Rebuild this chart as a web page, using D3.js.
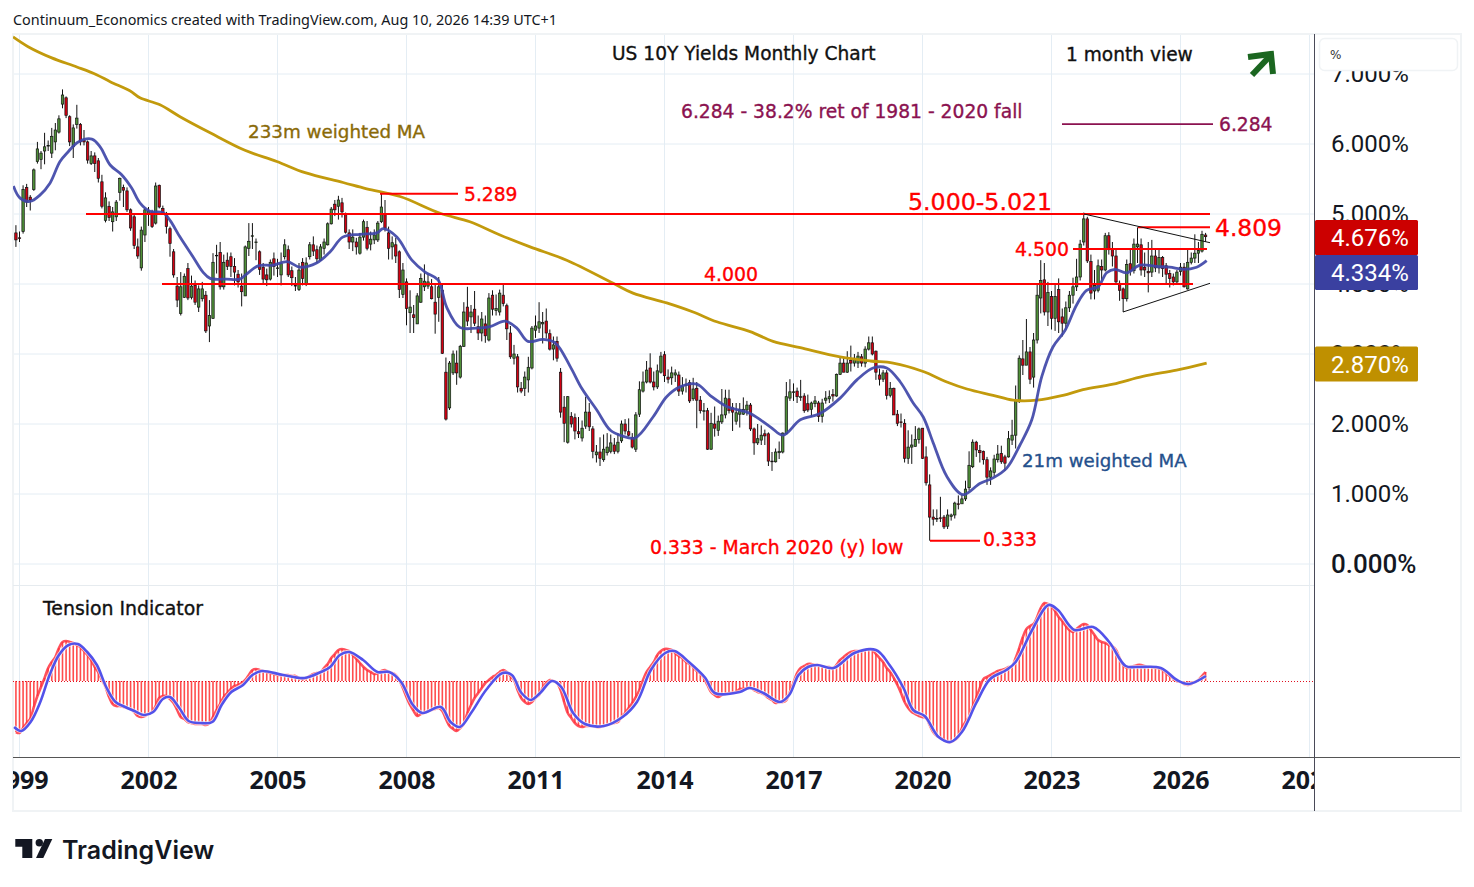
<!DOCTYPE html>
<html>
<head>
<meta charset="utf-8">
<title>US 10Y Yields Monthly Chart</title>
<script src="https://cdn.jsdelivr.net/npm/d3@7"></script>
<style>
  html, body { margin: 0; padding: 0; background: #fff; }
  svg { display: block; }
  text { font-family: "DejaVu Sans", sans-serif; }
</style>
</head>
<body>
<svg id="chart" width="1474" height="887"></svg>
<script>
"use strict";

// monthly bars, first row is Dec 1998, then one row per year up to Aug 2026
var opens = [4.73,
  4.66,4.75,5.38,5.24,5.35,5.75,5.78,5.90,5.97,5.87,6.03,6.17,
  6.57,6.66,6.39,5.96,6.28,6.28,6.05,6.03,5.72,5.83,5.76,5.46,
  4.91,5.11,4.89,4.96,5.31,5.38,5.33,5.06,4.96,4.53,4.23,4.70,
  5.00,5.03,4.87,5.41,5.08,5.01,4.79,4.46,3.97,3.58,3.81,4.22,
  3.81,3.98,3.67,3.79,3.84,3.40,3.51,4.41,4.45,3.96,4.34,4.39,
  4.25,4.14,3.97,3.83,4.51,4.69,4.60,4.46,4.24,4.13,4.07,4.36,
  4.23,4.13,4.39,4.49,4.19,3.98,3.92,4.31,4.00,4.39,4.56,4.49,
  4.34,4.51,4.56,4.86,5.14,5.11,5.16,4.99,4.73,4.60,4.60,4.44,
  4.67,4.81,4.57,4.63,4.63,4.89,4.99,4.73,4.53,4.56,4.46,3.85,
  4.03,3.59,3.56,3.43,3.74,3.96,3.97,3.96,3.74,3.81,3.91,2.74,
  2.23,2.73,2.87,2.67,3.11,3.67,3.53,3.64,3.39,3.30,3.43,3.20,
  3.84,3.62,3.60,3.84,3.69,3.30,2.94,2.96,2.51,2.51,2.63,2.80,
  3.34,3.37,3.43,3.47,3.29,3.07,3.18,2.74,2.24,1.74,2.11,2.09,
  1.89,1.80,1.97,2.17,1.93,1.56,1.60,1.49,1.59,1.61,1.70,1.61,
  1.76,2.00,1.89,1.81,1.64,2.14,2.47,2.60,2.80,2.60,2.53,2.74,
  2.99,2.67,2.66,2.70,2.70,2.47,2.56,2.59,2.36,2.51,2.34,2.19,
  2.19,1.64,2.00,1.91,2.03,2.13,2.36,2.23,2.04,2.14,2.14,2.20,
  2.27,1.93,1.73,1.77,1.86,1.86,1.47,1.46,1.59,1.60,1.86,2.37,
  2.46,2.47,2.39,2.40,2.29,2.21,2.29,2.30,2.11,2.34,2.36,2.42,
  2.40,2.71,2.87,2.74,2.91,2.87,2.87,2.96,2.87,3.07,3.16,3.04,
  2.70,2.64,2.73,2.41,2.51,2.14,2.03,2.01,1.51,1.67,1.68,1.78,
  1.94,1.53,1.13,0.67,0.65,0.66,0.67,0.54,0.68,0.70,0.86,0.86,
  0.93,1.09,1.39,1.74,1.62,1.61,1.49,1.24,1.31,1.49,1.58,1.53,
  1.53,1.77,1.84,2.34,2.93,2.84,3.03,2.67,3.20,3.80,4.06,3.60,
  3.82,3.51,3.92,3.53,3.44,3.66,3.84,3.96,4.10,4.60,4.93,4.32,
  3.90,3.91,4.25,4.20,4.69,4.49,4.40,4.01,3.93,3.79,4.29,4.19,
  4.53,4.56,4.24,4.18,4.17,4.40,4.23,4.38,4.26,4.15,4.10,4.03,
  4.18,4.24,3.93,4.31,4.37,4.44,4.47,4.70];

var highs = [4.84,
  4.75,5.41,5.43,5.27,5.65,6.03,5.90,6.16,6.05,6.23,6.30,6.41,
  6.78,6.68,6.41,6.28,6.56,6.30,6.20,6.05,5.90,5.88,5.80,5.56,
  5.31,5.18,5.10,5.20,5.52,5.42,5.38,5.08,5.00,4.65,4.82,5.08,
  5.10,5.06,5.45,5.42,5.12,5.03,4.82,4.50,4.10,4.17,4.15,4.30,
  4.12,4.05,3.98,4.03,3.90,3.77,4.44,4.56,4.60,4.42,4.45,4.45,
  4.37,4.20,4.15,4.55,4.87,4.87,4.65,4.48,4.30,4.22,4.35,4.45,
  4.36,4.45,4.64,4.55,4.25,4.10,4.30,4.37,4.38,4.60,4.68,4.55,
  4.57,4.65,4.88,5.10,5.20,5.26,5.23,5.02,4.78,4.78,4.66,4.73,
  4.92,4.90,4.75,4.78,4.90,5.289,5.20,4.82,4.68,4.66,4.48,4.30,
  4.08,3.91,3.70,3.87,4.15,4.28,4.15,4.07,4.00,4.10,3.99,2.95,
  2.90,3.05,3.05,3.13,3.74,3.96,3.70,3.90,3.55,3.60,3.55,3.87,
  3.91,3.85,3.92,3.99,3.72,3.40,3.13,3.00,2.60,2.75,2.96,3.40,
  3.55,3.74,3.60,3.65,3.35,3.25,3.25,2.80,2.40,2.40,2.17,2.15,
  2.10,2.05,2.39,2.30,1.97,1.70,1.81,1.85,1.87,1.85,1.80,1.87,
  2.05,2.07,2.08,1.87,2.17,2.61,2.75,2.90,3.01,2.75,2.85,3.03,
  3.04,2.78,2.82,2.78,2.75,2.67,2.65,2.63,2.66,2.60,2.40,2.30,
  2.23,2.16,2.25,2.12,2.50,2.49,2.49,2.30,2.30,2.30,2.38,2.33,
  2.30,1.95,2.00,1.98,1.92,1.88,1.60,1.65,1.75,1.88,2.60,2.64,
  2.58,2.52,2.63,2.44,2.42,2.32,2.40,2.33,2.36,2.47,2.48,2.50,
  2.72,2.96,2.95,3.04,3.12,3.00,3.03,3.00,3.11,3.25,3.25,3.05,
  2.79,2.77,2.77,2.60,2.52,2.20,2.15,2.07,1.91,1.85,1.97,1.95,
  1.94,1.68,1.28,0.78,0.78,0.96,0.70,0.78,0.72,0.89,0.98,0.99,
  1.19,1.61,1.78,1.76,1.70,1.62,1.53,1.38,1.56,1.70,1.69,1.56,
  1.90,2.06,2.55,2.98,3.20,3.50,3.10,3.30,4.00,4.34,4.30,4.03,
  3.90,4.00,4.08,3.65,3.75,3.90,4.09,4.36,4.63,5.02,4.96,4.42,
  4.20,4.35,4.35,4.73,4.74,4.60,4.50,4.05,3.95,4.35,4.50,4.65,
  4.809,4.65,4.45,4.60,4.63,4.50,4.50,4.40,4.30,4.20,4.15,4.20,
  4.30,4.30,4.50,4.45,4.71,4.60,4.76,4.73];

var lows = [4.53,
  4.60,4.72,5.10,5.05,5.33,5.72,5.64,5.71,5.90,5.80,5.91,6.15,
  6.51,6.37,5.97,5.80,6.22,5.98,5.98,5.72,5.70,5.60,5.45,5.08,
  4.88,4.90,4.75,4.90,5.19,5.10,5.03,4.76,4.50,4.36,4.19,4.60,
  4.83,4.80,4.85,5.08,5.00,4.72,4.39,4.09,3.67,3.55,3.80,3.77,
  3.78,3.70,3.60,3.75,3.30,3.17,3.50,4.15,3.92,3.92,4.20,4.10,
  3.98,3.95,3.68,3.83,4.40,4.50,4.34,4.13,4.00,3.97,4.05,4.12,
  4.10,3.98,4.35,4.10,3.97,3.90,3.90,3.98,3.97,4.35,4.40,4.30,
  4.33,4.42,4.55,4.85,4.97,4.92,4.95,4.72,4.50,4.47,4.42,4.42,
  4.62,4.48,4.48,4.57,4.60,4.87,4.75,4.35,4.35,4.30,3.80,3.80,
  3.41,3.30,3.30,3.43,3.73,3.90,3.93,3.78,3.29,3.46,3.00,2.05,
  2.20,2.70,2.56,2.65,3.10,3.40,3.30,3.40,3.20,3.18,3.16,3.18,
  3.55,3.55,3.55,3.68,3.20,2.93,2.85,2.45,2.44,2.40,2.45,2.78,
  3.23,3.30,3.15,3.22,3.05,2.91,2.89,2.09,1.74,1.72,1.95,1.78,
  1.80,1.75,1.93,1.90,1.51,1.45,1.40,1.46,1.55,1.58,1.57,1.58,
  1.73,1.85,1.82,1.65,1.60,2.10,2.45,2.58,2.58,2.48,2.50,2.72,
  2.60,2.58,2.56,2.60,2.40,2.42,2.45,2.30,2.33,1.94,2.15,2.05,
  1.63,1.63,1.82,1.83,2.00,2.08,2.15,1.90,1.99,1.95,2.13,2.12,
  1.90,1.56,1.70,1.70,1.70,1.40,1.33,1.45,1.50,1.58,1.85,2.33,
  2.33,2.30,2.33,2.16,2.17,2.10,2.24,2.03,2.02,2.29,2.30,2.32,
  2.39,2.70,2.74,2.73,2.75,2.82,2.80,2.82,2.81,3.05,2.98,2.63,
  2.55,2.60,2.35,2.38,2.13,1.97,1.95,1.45,1.43,1.43,1.68,1.72,
  1.50,1.12,0.333,0.55,0.60,0.60,0.50,0.50,0.62,0.65,0.78,0.88,
  0.90,1.05,1.37,1.53,1.45,1.42,1.13,1.13,1.25,1.45,1.43,1.33,
  1.52,1.70,1.65,2.30,2.70,2.88,2.57,2.52,3.15,3.58,3.55,3.40,
  3.35,3.33,3.30,3.25,3.35,3.60,3.72,3.90,4.05,4.55,4.30,3.78,
  3.78,3.88,4.05,4.18,4.42,4.25,4.00,3.76,3.60,3.75,4.12,4.15,
  4.30,4.12,4.10,3.88,4.10,4.17,4.15,4.10,4.00,3.95,3.98,4.00,
  4.12,3.95,3.92,4.28,4.30,4.30,4.45,4.60];

var closes = [4.63,
  4.65,5.35,5.17,5.20,5.63,5.93,5.87,5.96,5.98,6.11,6.20,6.36,
  6.70,6.41,6.03,6.23,6.37,6.03,6.03,5.77,5.83,5.72,5.51,5.11,
  5.23,4.95,5.03,5.17,5.51,5.34,5.06,4.80,4.55,4.40,4.77,5.06,
  5.04,4.82,5.40,5.10,5.02,4.82,4.58,4.13,3.77,3.96,4.11,3.80,
  3.97,3.74,3.93,3.93,3.33,3.55,4.31,4.41,3.96,4.31,4.25,4.25,
  4.17,4.03,3.89,4.53,4.61,4.69,4.60,4.21,4.07,4.06,4.31,4.25,
  4.23,4.29,4.56,4.13,4.09,3.97,4.20,4.08,4.30,4.56,4.47,4.36,
  4.53,4.60,4.86,5.07,5.06,5.20,5.03,4.74,4.60,4.67,4.53,4.67,
  4.89,4.51,4.64,4.70,4.87,5.10,4.80,4.51,4.59,4.40,3.92,4.20,
  3.65,3.67,3.52,3.83,4.08,4.04,4.03,3.79,3.57,3.96,3.01,2.07,
  2.87,3.00,2.73,3.11,3.60,3.47,3.60,3.44,3.30,3.50,3.26,3.80,
  3.64,3.65,3.87,3.72,3.36,2.96,3.00,2.53,2.47,2.67,2.81,3.37,
  3.40,3.46,3.45,3.30,3.07,3.13,2.94,2.17,2.01,2.39,2.00,1.90,
  1.86,1.94,2.17,1.96,1.61,1.60,1.51,1.64,1.67,1.73,1.61,1.74,
  2.00,1.90,1.84,1.67,2.13,2.49,2.60,2.77,2.60,2.53,2.76,2.97,
  2.69,2.64,2.73,2.73,2.47,2.54,2.56,2.33,2.50,2.34,2.19,2.19,
  1.64,2.01,1.94,2.04,2.13,2.37,2.19,2.17,2.16,2.21,2.21,2.27,
  1.93,1.73,1.79,1.84,1.83,1.47,1.46,1.60,1.61,1.87,2.39,2.46,
  2.46,2.39,2.39,2.19,2.20,2.30,2.33,2.11,2.30,2.37,2.39,2.40,
  2.71,2.87,2.74,2.87,2.87,2.94,2.97,2.87,3.07,3.16,3.00,2.74,
  2.64,2.73,2.41,2.51,2.13,2.01,2.02,1.51,1.67,1.70,1.78,1.93,
  1.51,1.16,0.67,0.64,0.65,0.65,0.53,0.70,0.70,0.87,0.85,0.93,
  1.07,1.41,1.74,1.63,1.59,1.49,1.24,1.33,1.50,1.57,1.46,1.44,
  1.79,1.84,2.34,2.94,2.84,3.03,2.64,3.20,3.84,4.05,3.60,3.88,
  3.51,3.82,3.46,3.44,3.66,3.84,3.96,4.10,4.57,4.93,4.33,3.87,
  3.98,4.26,4.20,4.69,4.49,4.40,4.03,3.91,3.79,4.28,4.19,4.57,
  4.57,4.20,4.20,4.16,4.40,4.23,4.38,4.22,4.14,4.08,4.03,4.17,
  4.24,3.96,4.31,4.37,4.44,4.48,4.71,4.676];

// weighted averages: month number since Jan 1999 and level
var ma21Months = [-1.7,0.1,2.9,5.7,8.5,11.3,13.6,16.4,20.2,22.5,25.3,28.5,31.3,33.6,36.4,40,42,44.8,48.4,51.2,53.2,57.8,61.5,63.8,66.6,70.8,74.7,78.3,82.9,86.7,90.2,95,99.7,101.5,105.3,109.5,113.2,116.8,119.2,122.9,127.6,131.3,135.5,138.8,141.9,146.1,149.5,153.7,156.9,161.1,164.9,168.1,171.8,176.8,180.6,184.3,189,192.7,197.4,203.9,209.5,213.1,217.9,223.4,229,233.7,238.2,242,245.8,249.4,252.2,255,258.8,263.3,268,271.7,275.5,279.2,282.5,285.3,288.4,291.8,295,297.8,301,303.4,305.7,309,312.7,317.4,321,324.7,328.5,331.3];
var ma21Values = [5.40,5.23,5.18,5.27,5.44,5.75,5.89,6.03,6.07,5.96,5.70,5.56,5.37,5.16,5.04,5.02,4.91,4.67,4.39,4.17,4.08,4.07,4.07,4.16,4.26,4.27,4.32,4.24,4.30,4.46,4.67,4.71,4.73,4.79,4.67,4.34,4.17,4.06,3.67,3.38,3.37,3.39,3.47,3.37,3.18,3.21,3.16,2.82,2.51,2.20,1.91,1.83,1.80,2.10,2.39,2.53,2.57,2.41,2.25,2.15,1.96,1.84,2.06,2.15,2.37,2.63,2.80,2.80,2.60,2.30,2.10,1.73,1.25,0.99,1.15,1.23,1.37,1.70,2.06,2.68,3.10,3.34,3.70,3.91,3.96,4.16,4.21,4.16,4.27,4.25,4.24,4.21,4.24,4.334];
var ma233Months = [-1.8,2.4,9,16,21.5,25.3,30.8,33.6,39.2,44.8,53.2,62.9,71.8,79.7,90.3,96.9,106.2,117.4,125.7,134.1,142.5,152.7,165.7,171.2,180.6,188,194.6,203.9,210.3,217.9,229,237.4,243.8,252.2,258.8,264.4,271.7,277.3,283.9,291.2,296.8,305.2,313.5,322.9,331.3];
var ma233Values = [7.53,7.39,7.23,7.10,6.99,6.89,6.76,6.66,6.56,6.39,6.16,5.91,5.75,5.59,5.45,5.36,5.25,5.01,4.89,4.70,4.53,4.34,4.01,3.87,3.73,3.60,3.46,3.32,3.18,3.09,2.96,2.90,2.87,2.75,2.60,2.50,2.41,2.34,2.34,2.41,2.49,2.57,2.68,2.77,2.87];

// tension indicator, same months as the bars
var tension = [-51,
  -52,-47,-42,-38,-26,-15,-6,3,13,19,24,33,
  39,40,39,38,36,34,30,26,21,14,9,1,
  -6,-16,-23,-25,-25,-26,-27,-28,-31,-35,-36,-35,
  -33,-31,-25,-17,-15,-15,-18,-22,-29,-36,-38,-41,
  -42,-43,-43,-43,-44,-42,-36,-29,-23,-16,-12,-8,
  -5,-4,-2,1,6,11,12,11,10,9,8,7,
  6,6,6,6,5,5,3,2,3,5,7,8,
  9,13,17,23,27,31,32,31,30,26,22,18,
  14,11,9,7,8,10,11,9,8,6,1,-7,
  -16,-24,-30,-35,-33,-32,-30,-29,-28,-27,-30,-38,
  -45,-48,-50,-47,-43,-32,-24,-17,-12,-7,-2,1,
  4,6,9,11,9,5,1,-9,-17,-21,-23,-21,
  -17,-14,-7,-2,1,0,-2,-9,-21,-32,-37,-42,
  -45,-46,-45,-45,-45,-46,-46,-45,-44,-43,-42,-41,
  -36,-32,-27,-22,-16,-9,1,9,14,19,26,30,
  32,32,31,28,25,23,19,17,14,10,8,3,
  -4,-11,-14,-16,-14,-13,-12,-12,-11,-8,-8,-7,
  -7,-9,-11,-12,-14,-17,-19,-22,-21,-21,-19,-11,
  -2,8,13,15,17,17,16,16,15,14,14,13,
  16,21,24,27,29,30,30,30,31,32,31,27,
  23,19,13,9,3,-4,-12,-21,-27,-31,-33,-35,
  -36,-37,-44,-51,-55,-57,-59,-61,-61,-59,-56,-47,
  -41,-36,-26,-17,-7,2,4,6,8,10,11,12,
  14,15,23,33,44,52,55,57,64,73,78,77,
  75,70,64,60,55,51,49,52,55,57,56,51,
  46,41,39,38,36,35,31,23,16,13,14,15,
  16,16,15,14,14,13,13,11,8,5,3,0,
  -1,-3,-4,-3,-1,1,5,9];
var signalMonths = [-1.5,0.5,3.1,5.8,8.4,11,13.7,16.3,18.9,21.6,24.2,26.8,29.5,32.1,34.7,37.3,40,42,44.6,47.2,50.5,53.8,56.4,59.1,62.4,65,67.6,73.6,79.5,84.1,86.7,89.4,92,95.9,99.9,103.2,106.5,109.8,112.4,117.6,120.3,122.9,126.2,130.2,134.8,137.4,140.1,142.7,145.3,148.6,151.2,154.5,157.8,163.1,168.3,172.3,176.2,180.2,182.8,186.8,191.4,194,201,203.7,207.6,212.2,214.8,217.4,220,222.6,227.2,233,239,242.8,246.7,249.4,252.6,256.5,259.8,263,267,270.9,275.4,278,282.6,287.2,289.8,294.4,299.6,304.1,308.7,311.9,318.5,323,326.3,331.1];
var signalValues = [-46,-50,-41,-21,6,26,36,37,29,16,-6,-21,-26,-30,-34,-31,-18,-16,-27,-40,-42,-41,-24,-11,-4,6,10,6,3,9,14,26,29,21,9,9,-1,-24,-32,-26,-41,-46,-31,-9,8,6,-12,-19,-12,0,-6,-32,-43,-45,-36,-21,11,28,30,19,3,-12,-11,-7,-12,-21,-14,6,14,16,13,28,31,16,-7,-29,-35,-56,-61,-51,-22,2,11,19,51,76,71,51,54,39,15,14,13,1,-3,5];

var priceTicks = [0, 1, 2, 3, 4, 5, 6, 7];
var yearLabels = [1999, 2002, 2005, 2008, 2011, 2014, 2017, 2020, 2023, 2026, 2029];
var lastLabels = [
  { text: "4.676%", value: 4.676, color: "#cc0000" },
  { text: "4.334%", value: 4.334, color: "#3a40a0" },
  { text: "2.870%", value: 2.870, color: "#bf9000" }
];

var RED = "#ff0000", MAROON = "#8b1250", GRID = "#e4edf4";

var svg = d3.select("#chart");

// month number counted from Jan 1999
var x = d3.scaleLinear().domain([0, 360]).range([19.5, 1309.5]);
var y = d3.scaleLinear().domain([0, 7]).range([564, 74]);
var yTension = d3.scaleLinear().domain([-100, 100]).range([781, 581]);

var defs = svg.append("defs");
defs.append("clipPath").attr("id", "pane").append("rect")
  .attr("x", 13).attr("y", 34).attr("width", 1301).attr("height", 723);
defs.append("clipPath").attr("id", "timeClip").append("rect")
  .attr("x", 13).attr("y", 758).attr("width", 1301).attr("height", 52);

// frame and grid
svg.append("g").selectAll("line").data(priceTicks).join("line")
  .attr("x1", 13).attr("x2", 1314)
  .attr("y1", function(d) { return y(d); }).attr("y2", function(d) { return y(d); })
  .attr("stroke", GRID);
svg.append("g").selectAll("line").data(yearLabels).join("line")
  .attr("x1", function(d) { return x((d - 1999) * 12); })
  .attr("x2", function(d) { return x((d - 1999) * 12); })
  .attr("y1", 34).attr("y2", 757)
  .attr("stroke", GRID);
svg.append("rect").attr("x", 13).attr("y", 34).attr("width", 1448).attr("height", 777)
  .attr("fill", "none").attr("stroke", "#f0f3f5").attr("stroke-width", 2);
svg.append("line").attr("x1", 13).attr("x2", 1314).attr("y1", 585.5).attr("y2", 585.5)
  .attr("stroke", "#e6ebef");
svg.append("line").attr("x1", 13).attr("x2", 1460).attr("y1", 757.5).attr("y2", 757.5)
  .attr("stroke", "#555");
svg.append("line").attr("x1", 1314.5).attr("x2", 1314.5).attr("y1", 34).attr("y2", 811)
  .attr("stroke", "#4a4a58");

// price axis
var priceAxis = d3.axisRight(y)
  .tickValues(priceTicks)
  .tickSize(0)
  .tickPadding(17)
  .tickFormat(function(d) { return d.toFixed(3) + "%"; });
var priceG = svg.append("g").attr("transform", "translate(1314,0)").call(priceAxis);
priceG.select(".domain").remove();
priceG.selectAll("text")
  .attr("fill", "#131722")
  .style("font-family", "Roboto, sans-serif")
  .style("font-size", "24px");
// the zero tick is heavier in the original
priceG.selectAll("text").filter(function(d) { return d === 0; })
  .style("font-weight", "500")
  .style("font-size", "26px");

// time axis
var timeAxis = d3.axisBottom(x)
  .tickValues(yearLabels.map(function(d) { return (d - 1999) * 12; }))
  .tickSize(0)
  .tickPadding(14)
  .tickFormat(function(d, i) { return yearLabels[i]; });
var timeG = svg.append("g").attr("clip-path", "url(#timeClip)")
  .append("g").attr("transform", "translate(0,757)").call(timeAxis);
timeG.select(".domain").remove();
timeG.selectAll("text")
  .attr("fill", "#131722")
  .style("font-family", "'Noto Sans', sans-serif")
  .style("font-weight", "700")
  .style("font-size", "25px");

// candles
var months = closes.map(function(d, i) { return i - 1; });
var candles = svg.append("g").attr("clip-path", "url(#pane)")
  .selectAll("g").data(months).join("g");
candles.append("line")
  .attr("x1", function(d) { return x(d); }).attr("x2", function(d) { return x(d); })
  .attr("y1", function(d, i) { return y(highs[i]); })
  .attr("y2", function(d, i) { return y(lows[i]); })
  .attr("stroke", "#111").attr("stroke-width", 1);
candles.append("rect")
  .attr("x", function(d) { return x(d) - 1.2; })
  .attr("width", 2.4)
  .attr("y", function(d, i) { return y(Math.max(opens[i], closes[i])); })
  .attr("height", function(d, i) { return Math.max(0.6, Math.abs(y(opens[i]) - y(closes[i]))); })
  .attr("fill", function(d, i) { return closes[i] >= opens[i] ? "#4f9038" : "#d40012"; })
  .attr("stroke", "#111").attr("stroke-width", 0.7);

// moving averages
var maLine = d3.line()
  .x(function(d) { return x(d[0]); })
  .y(function(d) { return y(d[1]); })
  .curve(d3.curveCatmullRom);
svg.append("path").attr("clip-path", "url(#pane)")
  .datum(d3.zip(ma233Months, ma233Values))
  .attr("d", maLine).attr("fill", "none")
  .attr("stroke", "#c29a0c").attr("stroke-width", 2.8);
svg.append("path").attr("clip-path", "url(#pane)")
  .datum(d3.zip(ma21Months, ma21Values))
  .attr("d", maLine).attr("fill", "none")
  .attr("stroke", "#3f47a8").attr("stroke-width", 2.8).attr("stroke-opacity", 0.92);

// drawn levels
function level(x1, x2, value, color, width) {
  svg.append("line")
    .attr("x1", x1).attr("x2", x2)
    .attr("y1", y(value)).attr("y2", y(value))
    .attr("stroke", color || RED).attr("stroke-width", width || 2);
}
level(86, 1210, 5);
level(162, 1193, 4);
level(380, 458, 5.289);
level(1073, 1207, 4.5);
level(1138, 1210, 4.809);
level(930, 980, 0.333);
level(1062, 1213, 6.284, MAROON, 1.6);

function trend(x1, v1, x2, v2) {
  svg.append("line")
    .attr("x1", x1).attr("x2", x2)
    .attr("y1", y(v1)).attr("y2", y(v2))
    .attr("stroke", "#111").attr("stroke-width", 1);
}
trend(1084, 5.0, 1210, 4.59);
trend(1123, 3.6, 1210, 4.01);

// tension indicator
var tensionG = svg.append("g").attr("clip-path", "url(#pane)");
tensionG.selectAll("rect").data(months).join("rect")
  .attr("x", function(d) { return x(d) - 0.8; })
  .attr("width", 1.6)
  .attr("y", function(d, i) { return Math.min(yTension(0), yTension(tension[i])); })
  .attr("height", function(d, i) { return Math.abs(yTension(tension[i]) - yTension(0)); })
  .attr("fill", "#ff4d4d");
tensionG.append("line")
  .attr("x1", 13).attr("x2", 1314)
  .attr("y1", yTension(0) + 0.5).attr("y2", yTension(0) + 0.5)
  .attr("stroke", "#e01020").attr("stroke-dasharray", "1,2");
var tensionLine = d3.line()
  .x(function(d) { return x(d[0]); })
  .y(function(d) { return yTension(d[1]); })
  .curve(d3.curveCatmullRom);
tensionG.append("path").datum(d3.zip(months, tension))
  .attr("d", tensionLine).attr("fill", "none")
  .attr("stroke", "#ff3340").attr("stroke-width", 2.6).attr("stroke-opacity", 0.85);
tensionG.append("path").datum(d3.zip(signalMonths, signalValues))
  .attr("d", tensionLine).attr("fill", "none")
  .attr("stroke", "#fff").attr("stroke-width", 4.2).attr("stroke-opacity", 0.7);
tensionG.append("path").datum(d3.zip(signalMonths, signalValues))
  .attr("d", tensionLine).attr("fill", "none")
  .attr("stroke", "#5252ea").attr("stroke-width", 2.6);

// last value boxes, stacked downward when two would collide
var boxCentre = -Infinity;
lastLabels.forEach(function(d) {
  boxCentre = Math.max(y(d.value) + 0.8, boxCentre + 35);
  d.centre = boxCentre;
});
var boxes = svg.append("g").selectAll("g").data(lastLabels).join("g")
  .attr("transform", function(d) { return "translate(1315," + d.centre + ")"; });
boxes.append("rect")
  .attr("x", 0).attr("y", -17.5).attr("width", 103).attr("height", 35).attr("rx", 1.5)
  .attr("fill", function(d) { return d.color; });
boxes.append("text")
  .attr("x", 16).attr("y", 9)
  .attr("fill", "#fff")
  .style("font-family", "Roboto, sans-serif")
  .style("font-size", "24px")
  .text(function(d) { return d.text; });

// unit box over the top tick
svg.append("rect").attr("x", 1319.5).attr("y", 38.5).attr("width", 138).attr("height", 32).attr("rx", 5)
  .attr("fill", "#fff").attr("stroke", "#f0f3f5").attr("stroke-width", 1.5);
svg.append("text").attr("x", 1330).attr("y", 59).attr("fill", "#333")
  .style("font-size", "12px").text("%");

// captions
svg.append("text").attr("x", 13).attr("y", 25).attr("fill", "#131722")
  .style("font-family", "'Noto Sans', sans-serif").style("font-size", "14.4px")
  .text("Continuum_Economics created with TradingView.com, Aug 10, 2026 14:39 UTC+1");

var captions = [
  ["US 10Y Yields Monthly Chart", 612, 60, 18.6, "#111"],
  ["1 month view", 1066, 61, 18.6, "#111"],
  ["6.284 - 38.2% ret of 1981 - 2020 fall", 681, 118, 18.7, MAROON],
  ["6.284", 1219, 131, 18.7, MAROON],
  ["233m weighted MA", 248, 138, 18.3, "#8a6a08"],
  ["5.289", 464, 201, 18.7, RED],
  ["5.000-5.021", 908, 210, 23.7, RED],
  ["4.809", 1215, 236, 23.4, RED],
  ["4.500", 1015, 256, 18.9, RED],
  ["4.000", 704, 281, 18.9, RED],
  ["21m weighted MA", 1022, 467, 18.2, "#24508c"],
  ["0.333 - March 2020 (y) low", 650, 554, 18.8, RED],
  ["0.333", 983, 546, 18.9, RED],
  ["Tension Indicator", 43, 615, 18.9, "#111"]
];
svg.append("g").selectAll("text").data(captions).join("text")
  .attr("x", function(d) { return d[1]; })
  .attr("y", function(d) { return d[2]; })
  .attr("fill", function(d) { return d[4]; })
  .attr("stroke", function(d) { return d[4]; })
  .attr("stroke-width", 0.35)
  .style("font-size", function(d) { return d[3] + "px"; })
  .text(function(d) { return d[0]; });

// direction arrow
var arrow = svg.append("g").attr("fill", "none").attr("stroke", "#1b6620").attr("stroke-width", 6);
arrow.append("path").attr("d", "M1252,75L1270,56");
arrow.append("path").attr("d", "M1248,57L1271,54L1273,74");

// logo
var logo = svg.append("g").attr("fill", "#131722");
logo.append("path").attr("d", "M15.3,839H32.3V858H22.3V846.7H15.3Z");
logo.append("circle").attr("cx", 39.3).attr("cy", 842.7).attr("r", 3.7);
logo.append("path").attr("d", "M45,839H52.3L43.3,858H36Z");
logo.append("text").attr("x", 62).attr("y", 859)
  .style("font-family", "Inter, sans-serif")
  .style("font-weight", "600")
  .style("font-size", "25px")
  .text("TradingView");
</script>
</body>
</html>
